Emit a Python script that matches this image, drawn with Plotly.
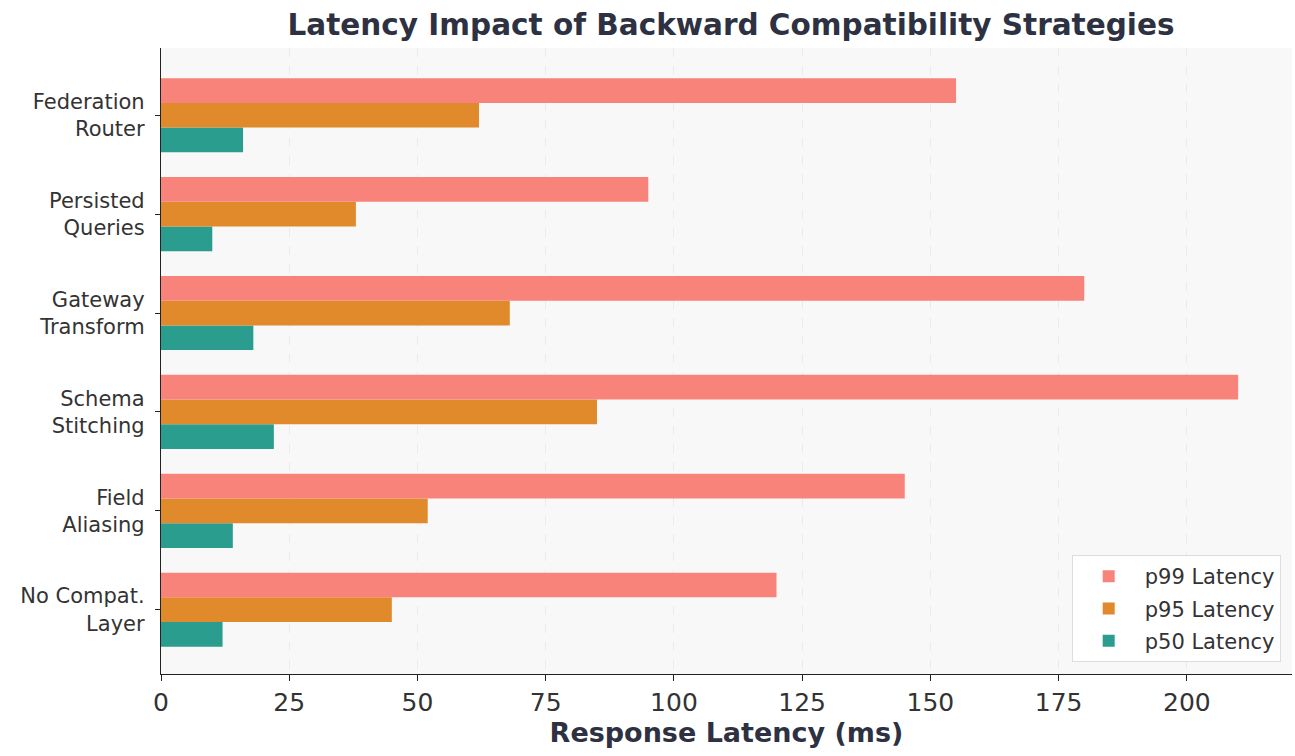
import plotly.graph_objects as go

categories = ["No Compat.<br>Layer", "Field<br>Aliasing", "Schema<br>Stitching",
              "Gateway<br>Transform", "Persisted<br>Queries", "Federation<br>Router"]
p99 = [120, 145, 210, 180, 95, 155]
p95 = [45, 52, 85, 68, 38, 62]
p50 = [12, 14, 22, 18, 10, 16]

series = [("p50 Latency", p50, "#2A9D8F", 3),
          ("p95 Latency", p95, "#E08A2C", 2),
          ("p99 Latency", p99, "#F8837A", 1)]

fig = go.Figure()
for name, vals, color, rank in series:
    fig.add_trace(go.Bar(y=categories, x=vals, name=name, orientation="h",
                         legendgroup=name, legendrank=rank,
                         marker=dict(color=color, line=dict(width=0))))

font = "DejaVu Sans, sans-serif"
fig.update_layout(
    width=1295, height=756,
    barmode="group", bargap=0.25, bargroupgap=0,
    paper_bgcolor="white", plot_bgcolor="#F8F8F8",
    margin=dict(l=161, r=3, t=48, b=82, autoexpand=False),
    font=dict(family=font, color="#333333"),
    title=dict(text="<b>Latency Impact of Backward Compatibility Strategies</b>",
               x=0.5645, xanchor="center", y=0.967, yanchor="middle",
               font=dict(size=29.5, color="#2D3142", family=font)),
    xaxis=dict(range=[0, 220.5], tickvals=[0, 25, 50, 75, 100, 125, 150, 175, 200],
               showgrid=True, gridcolor="#EBEBEB", griddash="dash", gridwidth=1,
               showline=True, linecolor="#222222", linewidth=1.3, automargin=False,
               ticks="outside", ticklen=6, tickcolor="#222222",
               tickfont=dict(size=25, color="#333333"), zeroline=False,
               title=dict(text="<b>Response Latency (ms)</b>", standoff=6,
                          font=dict(size=27, color="#2D3142"))),
    yaxis=dict(range=[-0.65, 5.68], showgrid=False, automargin=False,
               showline=True, linecolor="#222222", linewidth=1.3,
               ticks="outside", ticklen=5, tickcolor="#222222", ticklabelstandoff=6,
               tickfont=dict(size=21, color="#333333")),
    legend=dict(traceorder="grouped", x=0.99, y=0.019, xanchor="right", yanchor="bottom",
                bgcolor="rgba(255,255,255,0.9)", bordercolor="#DDDDDD", borderwidth=1,
                font=dict(size=21, color="#333333"), itemwidth=62, tracegroupgap=2),
)
fig.write_html("out.html", config={"displayModeBar": False},
               post_script="document.body.style.margin='0';")
